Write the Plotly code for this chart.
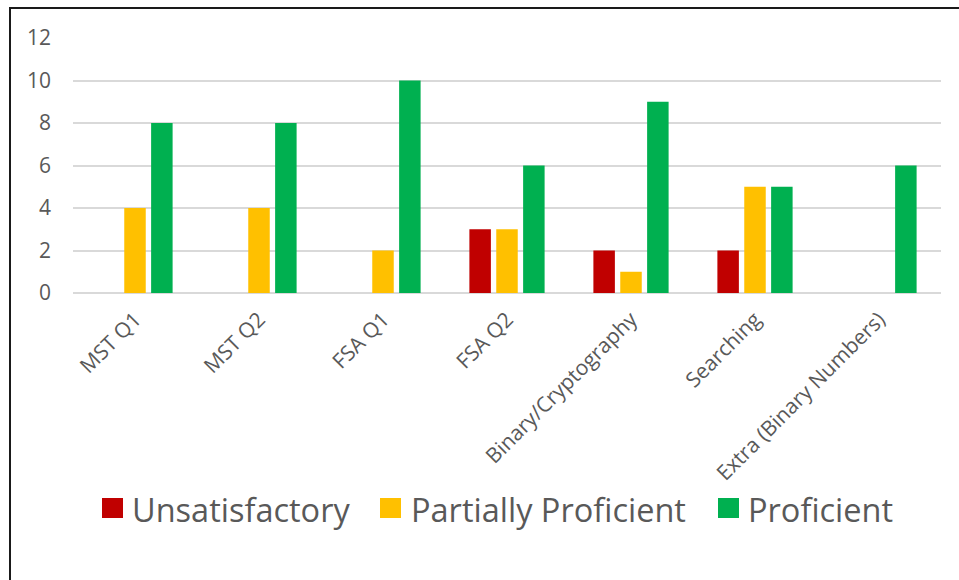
import plotly.graph_objects as go

# Assessment results per topic
categories = ["MST Q1", "MST Q2", "FSA Q1", "FSA Q2", "Binary/Cryptography",
              "Searching", "Extra (Binary Numbers)"]
unsatisfactory = [0, 0, 0, 3, 2, 2, 0]
partially_proficient = [4, 4, 2, 3, 1, 5, 0]
proficient = [8, 8, 10, 6, 9, 5, 6]
y_ticks = [0, 2, 4, 6, 8, 10, 12]

series = [
    ("Unsatisfactory", unsatisfactory, "#C00000"),
    ("Partially Proficient", partially_proficient, "#FFC000"),
    ("Proficient", proficient, "#00B050"),
]

W, H = 959, 580
ML, MR, MT, MB = 73, 18, 38, 287
PW, PH = W - ML - MR, H - MT - MB


def px_x(x):
    return (x - ML) / PW


def px_y(y):
    return (H - MB - y) / PH


FONT = "Open Sans"
GREY = "#595959"

fig = go.Figure()
for name, vals, color in series:
    fig.add_trace(go.Bar(x=categories, y=vals, name=name,
                         marker=dict(color=color, line=dict(width=0)),
                         showlegend=False))

shapes = []
annotations = []

# Outer frame: left and top edges
shapes.append(dict(type="line", xref="paper", yref="paper",
                   x0=px_x(10), y0=px_y(H + 5), x1=px_x(10), y1=px_y(8),
                   line=dict(color="#1a1a1a", width=2)))
shapes.append(dict(type="line", xref="paper", yref="paper",
                   x0=px_x(9), y0=px_y(8), x1=px_x(W + 5), y1=px_y(8),
                   line=dict(color="#1a1a1a", width=2)))

# Legend drawn below the category labels
legend_items = [(102, 133), (380, 412), (718, 749)]
for (sx, tx), (name, _, color) in zip(legend_items, series):
    shapes.append(dict(type="rect", xref="paper", yref="paper",
                       x0=px_x(sx), x1=px_x(sx + 21),
                       y0=px_y(518), y1=px_y(498),
                       fillcolor=color, line=dict(width=0)))
    annotations.append(dict(text=name, xref="paper", yref="paper",
                            x=px_x(tx - 3), y=px_y(509),
                            xanchor="left", yanchor="middle", showarrow=False,
                            font=dict(family=FONT, size=32.5, color=GREY)))

fig.update_layout(
    width=W, height=H,
    margin=dict(l=ML, r=MR, t=MT, b=MB),
    paper_bgcolor="white", plot_bgcolor="white",
    barmode="group", bargap=0.35, bargroupgap=0.2,
    shapes=shapes, annotations=annotations,
    font=dict(family=FONT, color=GREY),
    xaxis=dict(tickangle=-45, tickfont=dict(family=FONT, size=21, color=GREY),
               showgrid=False, showline=False, ticks="",
               ticklabelstandoff=9, automargin=False),
    yaxis=dict(range=[0, 12], tickvals=y_ticks,
               tickfont=dict(family=FONT, size=21, color=GREY),
               showgrid=True, gridcolor="#D9D9D9", gridwidth=1.5,
               zeroline=True, zerolinecolor="#D9D9D9", zerolinewidth=1.5,
               showline=False, ticks="", ticklabelstandoff=21,
               automargin=False),
)

fig.write_html("out.html")
